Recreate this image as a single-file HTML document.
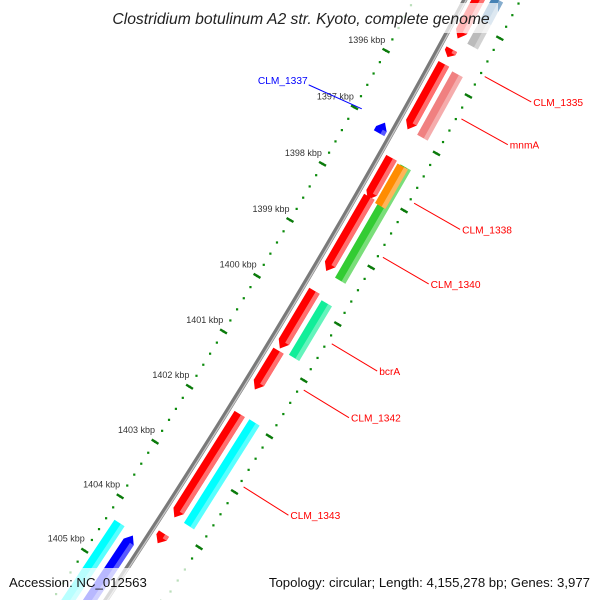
<!DOCTYPE html>
<html><head><meta charset="utf-8"><style>
html,body{margin:0;padding:0;background:#fff;overflow:hidden;}
svg{display:block;font-family:"Liberation Sans",sans-serif;}
</style></head><body>
<svg id="map" width="600" height="600" viewBox="0 0 600 600" xmlns="http://www.w3.org/2000/svg">
<g id="rings"></g>
<g id="backbone"></g>
<g id="features"></g>
<g id="labels"></g>
<rect x="106" y="3" width="392" height="30" fill="rgba(255,255,255,0.72)"/>
<text x="301" y="24" text-anchor="middle" font-size="15.7" font-style="italic" fill="#222">Clostridium botulinum A2 str. Kyoto, complete genome</text>
<rect x="0" y="568" width="600" height="32" fill="rgba(255,255,255,0.72)"/>
<text x="9" y="587" font-size="13.2" fill="#111">Accession: NC_012563</text>
<text x="590" y="587" text-anchor="end" font-size="13.2" fill="#111">Topology: circular; Length: 4,155,278 bp; Genes: 3,977</text>
</svg>
<script>
// data
const tickKbp = [1395,1396,1397,1398,1399,1400,1401,1402,1403,1404,1405];
const tickLabels = ["1395 kbp","1396 kbp","1397 kbp","1398 kbp","1399 kbp","1400 kbp","1401 kbp","1402 kbp","1403 kbp","1404 kbp","1405 kbp"];
const featStart = [1393.5,1395.82,1396.08,1397.76,1398.46,1400.16,1401.25,1402.41,1404.62, 1394.8,1395.2,1396.12,1397.78,1397.79,1400.23,1402.40, 1397.33,1404.86,1404.91];
const featEnd   = [1395.63,1395.96,1397.25,1398.51,1399.80,1401.21,1401.96,1404.32,1404.80, 1395.2,1395.63,1397.25,1399.82,1398.50,1401.22,1404.31, 1397.52,1407.0,1407.0];
const featTrack = [12,12,12,12,12,12,12,12,12, 29,29,29,29,26,29,29, -11,-31,-13];
const featColor = ["#ff0000","#ff0000","#ff0000","#ff0000","#ff0000","#ff0000","#ff0000","#ff0000","#ff0000","#4682b4","#bbbbbb","#f08080","#33cc33","#ff8c00","#11ee99","#00ffff","#0000ff","#00ffff","#0000ff"];
const featStrand = [1,1,1,1,1,1,1,1,1, 0,0,0,0,0,0,0, -1,0,-1];
const labelText = ["CLM_1335","mnmA","CLM_1338","CLM_1340","bcrA","CLM_1342","CLM_1343","CLM_1337"];
const labelKbp = [1395.95,1396.7,1398.2,1399.17,1400.73,1401.57,1403.34,1397.32];
const labelColor = ["#ff0000","#ff0000","#ff0000","#ff0000","#ff0000","#ff0000","#ff0000","#0000ff"];

const CX=-6048, CY=-3486, R=7387, A0=0.4997, K=0.008656;
function P(kbp,off){const a=A0+(kbp-1396)*K;return [CX+(R+off)*Math.cos(a), CY+(R+off)*Math.sin(a)];}
function tickPos(k){return k+0.335+(k-1396)*0.021;}
const NS="http://www.w3.org/2000/svg";
function mk(tag,parent,attrs){const e=document.createElementNS(NS,tag);for(const k in attrs)e.setAttribute(k,attrs[k]);parent.appendChild(e);return e;}
const rings=document.getElementById('rings');
for(let i=0;i<=70;i++){
  const kb=1394+i*0.2;
  [-45,49].forEach(off=>{
    const p=P(tickPos(kb),off);
    const d=mk('rect',rings,{x:p[0]-1,y:p[1]-1,width:2.2,height:2.2,fill:'#0a8a0a'});
    
    
  });
}
tickKbp.forEach((kb,i)=>{
  const k2=tickPos(kb);
  [-45,49].forEach(off=>{
    const a=P(k2,off-4),b=P(k2,off+4);
    const t=mk('line',rings,{x1:a[0],y1:a[1],x2:b[0],y2:b[1],stroke:'#0a7a0a','stroke-width':2.4});
    
    
  });
  const lp=P(k2,-67);
  const tx=mk('text',rings,{x:lp[0],y:lp[1]+3,'text-anchor':'middle','font-size':9,fill:'#333'});
  tx.textContent=tickLabels[i];
  
  
});
const bb=document.getElementById('backbone');
let pts=[];for(let kb=1393;kb<=1408;kb+=0.25){pts.push(P(kb,0).join(','));}
mk('polyline',bb,{points:pts.join(' '),fill:'none',stroke:'#7a7a7a','stroke-width':5});
pts=[];for(let kb=1393;kb<=1408;kb+=0.25){pts.push(P(kb,1.3).join(','));}
mk('polyline',bb,{points:pts.join(' '),fill:'none',stroke:'#c8c8c8','stroke-width':1.3});
const fg=document.getElementById('features');
function shade(c){return c==='#ff0000'?'#ff7070':'rgba(255,255,255,0.35)';}
featStart.forEach((s,i)=>{
  const e=featEnd[i],o=featTrack[i],w=6,st=featStrand[i],ah=Math.min(0.12,(e-s)*0.6);
  let poly;
  if(st===1){poly=[P(s,o-w),P(e-ah,o-w),P(e,o),P(e-ah,o+w),P(s,o+w)];}
  else if(st===-1){poly=[P(s+ah,o-w),P(e,o-w),P(e,o+w),P(s+ah,o+w),P(s,o)];}
  else{poly=[P(s,o-w),P(e,o-w),P(e,o+w),P(s,o+w)];}
  const f=mk('polygon',fg,{points:poly.map(p=>p.join(',')).join(' '),fill:featColor[i],stroke:'none'});
  
  
  const s2=s+(st===-1?ah:0),e2=e-(st===1?ah:0);
  const hp=[P(s2,o+1.5),P(e2,o+1.5),P(e2,o+w),P(s2,o+w)];
  const h=mk('polygon',fg,{points:hp.map(p=>p.join(',')).join(' '),fill:shade(featColor[i])});
  
  
});
const lg=document.getElementById('labels');
labelText.forEach((t,i)=>{
  const kb=labelKbp[i];
  let a,b,tp,anchor;
  if(labelColor[i]==='#0000ff'){a=P(kb,-38);b=P(kb+0.08,-96);tp=[b[0]-1,b[1]-1];anchor='end';}
  else{a=P(kb,54);b=P(kb,107);tp=[b[0]+2,b[1]+4];anchor='start';}
  const l=mk('line',lg,{x1:a[0],y1:a[1],x2:b[0],y2:b[1],stroke:labelColor[i],'stroke-width':1});
  
  
  const tx=mk('text',lg,{x:tp[0],y:tp[1],'text-anchor':anchor,'font-size':10.2,fill:labelColor[i]});
  tx.textContent=t;
  
  
});
</script>
</body></html>
